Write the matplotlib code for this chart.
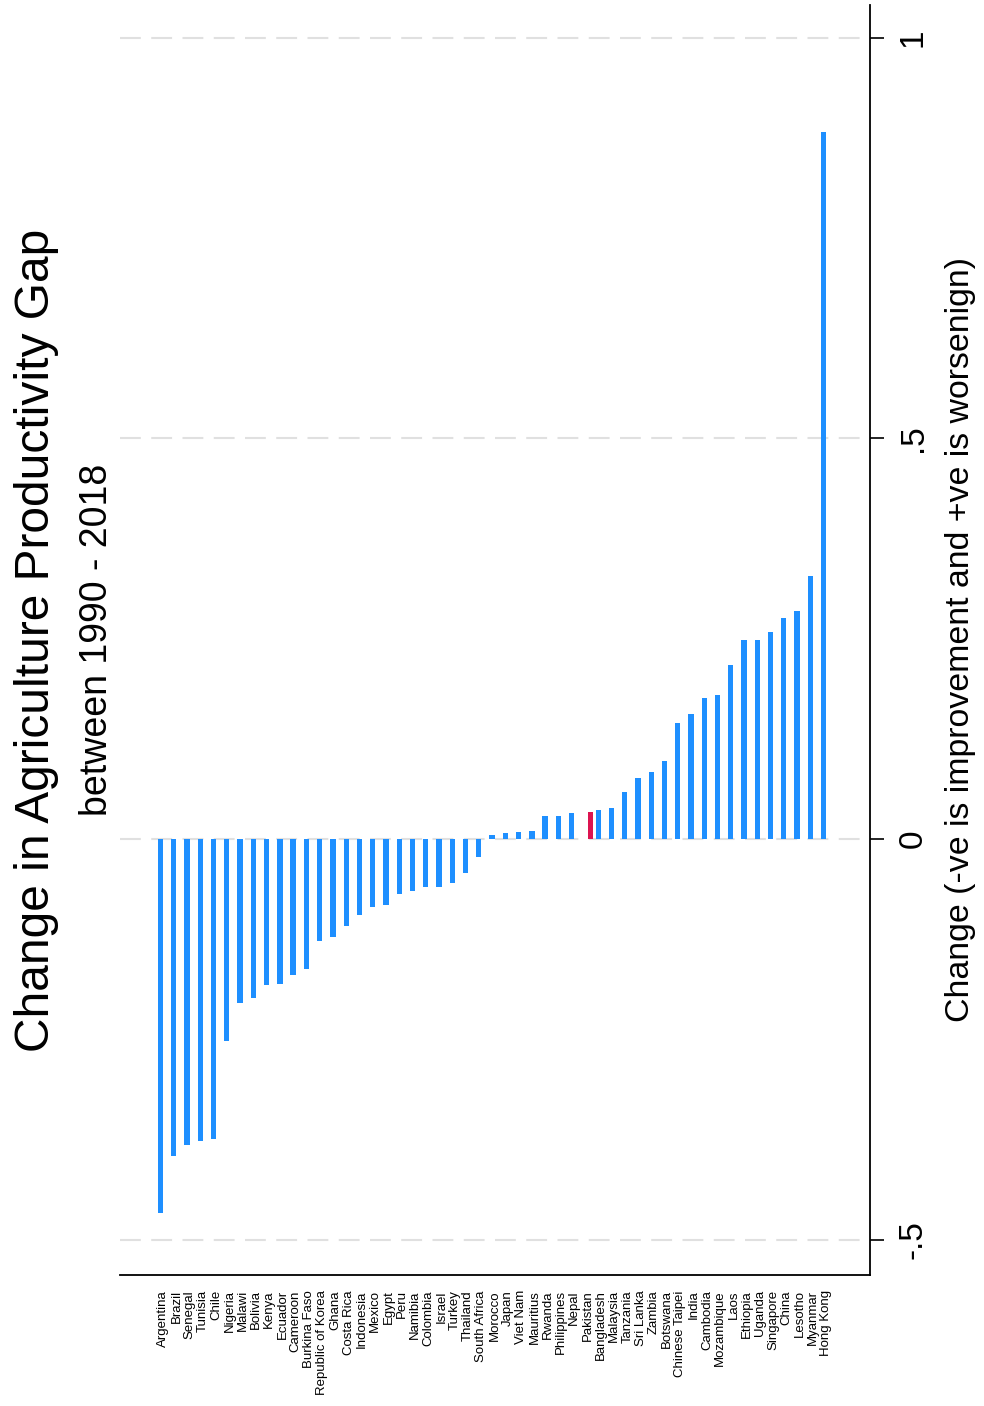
import matplotlib
matplotlib.use('Agg')
import matplotlib.pyplot as plt
import numpy as np

# Change in agriculture productivity gap, 1990-2018, sorted ascending
countries = [
    'Argentina', 'Brazil', 'Senegal', 'Tunisia', 'Chile', 'Nigeria', 'Malawi',
    'Bolivia', 'Kenya', 'Ecuador', 'Cameroon', 'Burkina Faso', 'Republic of Korea',
    'Ghana', 'Costa Rica', 'Indonesia', 'Mexico', 'Egypt', 'Peru', 'Namibia',
    'Colombia', 'Israel', 'Turkey', 'Thailand', 'South Africa', 'Morocco', 'Japan',
    'Viet Nam', 'Mauritius', 'Rwanda', 'Philippines', 'Nepal', 'Pakistan',
    'Bangladesh', 'Malaysia', 'Tanzania', 'Sri Lanka', 'Zambia', 'Botswana',
    'Chinese Taipei', 'India', 'Cambodia', 'Mozambique', 'Laos', 'Ethiopia',
    'Uganda', 'Singapore', 'China', 'Lesotho', 'Myanmar', 'Hong Kong',
]
change = [
    -0.466, -0.395, -0.381, -0.377, -0.374, -0.252, -0.204,
    -0.198, -0.182, -0.181, -0.170, -0.162, -0.127,
    -0.122, -0.108, -0.095, -0.085, -0.082, -0.068, -0.065,
    -0.059, -0.059, -0.055, -0.042, -0.022, 0.005, 0.008,
    0.009, 0.010, 0.029, 0.029, 0.033, 0.034,
    0.036, 0.039, 0.059, 0.077, 0.084, 0.098,
    0.145, 0.156, 0.176, 0.180, 0.217, 0.248,
    0.249, 0.258, 0.276, 0.285, 0.328, 0.882,
]
highlight = 'Pakistan'

yticks = [-0.5, 0, 0.5, 1]
yticklabels = ['-.5', '0', '.5', '1']

plt.rcParams['font.family'] = ['Liberation Sans', 'DejaVu Sans']

BLUE = '#1e8fff'
RED = '#dc1450'

fig = plt.figure(figsize=(9.84, 14.06), dpi=100, facecolor='white')
ax = fig.add_axes([0.1220, 0.0932, 0.7622, 0.9033])

pos = np.arange(len(countries))
vals = np.array(change)
is_hl = np.array([c == highlight for c in countries])
w = 0.4

# two series side by side: everything else, and the highlighted country
ax.bar(pos[~is_hl] - w / 2, vals[~is_hl], width=w, color=BLUE, zorder=3)
ax.bar(pos[is_hl] + w / 2, vals[is_hl], width=w, color=RED, zorder=3)

ax.set_xlim(-3.25, len(countries) + 2.3)
ax.set_ylim(-0.5437, 1.041)

ax.set_xticks(pos)
ax.set_xticklabels(countries, rotation=90, fontsize=9.5)
ax.tick_params(axis='x', length=0, pad=11)

ax.yaxis.tick_right()
ax.set_yticks(yticks)
ax.set_yticklabels(yticklabels, rotation=90, va='center')
ax.tick_params(axis='y', right=True, left=False, length=10, width=1.2,
               pad=10, labelsize=24)

ax.set_axisbelow(True)
ax.yaxis.grid(True, color='#e0e0e0', linestyle=(0, (10, 5)), linewidth=1.5)
ax.xaxis.grid(False)

for side in ('left', 'top'):
    ax.spines[side].set_visible(False)
for side in ('bottom', 'right'):
    ax.spines[side].set_linewidth(1.3)
    ax.spines[side].set_color('black')

fig.text(37 / 984, 1 - 640 / 1406, 'Change in Agriculture Productivity Gap',
         rotation=90, ha='center', va='center', fontsize=34.5)
fig.text(97 / 984, 1 - 640 / 1406, 'between 1990 - 2018',
         rotation=90, ha='center', va='center', fontsize=27)
fig.text(961 / 984, 1 - 640 / 1406,
         'Change (-ve is improvement and +ve is worsenign)',
         rotation=90, ha='center', va='center', fontsize=24.4)

fig.savefig('out.png', dpi=100, facecolor='white')
